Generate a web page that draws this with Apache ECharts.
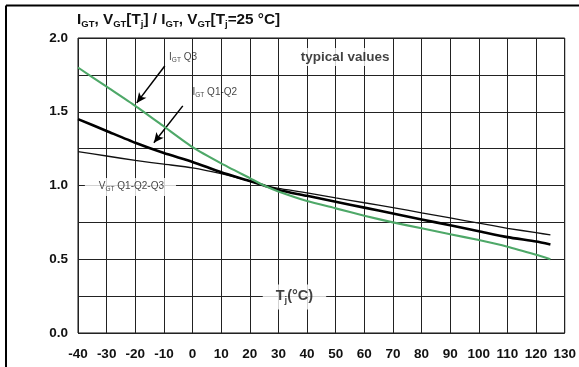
<!DOCTYPE html>
<html>
<head>
<meta charset="utf-8">
<script src="https://cdn.jsdelivr.net/npm/echarts@6/dist/echarts.min.js"></script>
<style>
  html, body { margin: 0; padding: 0; background: #fff; }
  #chart { width: 579px; height: 367px; }
</style>
</head>
<body>
<div id="chart"></div>
<script>
// Junction temperature (°C)
const temps = [-40, -30, -20, -10, 0, 10, 20, 25, 30, 40, 50, 60, 70, 80, 90, 100, 110, 120, 125];
// Normalised gate trigger current, quadrant 3
const igtQ3 = [1.80, 1.67, 1.54, 1.40, 1.26, 1.15, 1.05, 1.00, 0.96, 0.895, 0.845, 0.795, 0.75, 0.71, 0.67, 0.63, 0.585, 0.53, 0.50];
// Normalised gate trigger current, quadrants 1-2
const igtQ12 = [1.45, 1.37, 1.29, 1.22, 1.16, 1.09, 1.03, 1.00, 0.97, 0.93, 0.89, 0.85, 0.81, 0.77, 0.73, 0.69, 0.65, 0.62, 0.60];
// Normalised gate trigger voltage, quadrants 1-2-3
const vgtQ123 = [1.23, 1.20, 1.17, 1.145, 1.12, 1.08, 1.03, 1.00, 0.98, 0.95, 0.916, 0.883, 0.85, 0.815, 0.78, 0.745, 0.71, 0.68, 0.665];

// Axis ranges
const xMin = -40, xMax = 130, xStep = 10;
const yMin = 0, yMax = 2, yStep = 0.25;

// Curve captions (data coordinates of the text anchor)
const captionQ3 = [-8.2, 1.864];
const captionQ12 = [0, 1.627];
const captionVgt = [-37.6, 0.99];
const captionTypical = [53.3, 1.871];
const captionTj = [35.6, 0.244];

// Pointer arrows: [from, to] in data coordinates
const arrowQ3 = [[-9.7, 1.81], [-19.5, 1.56]];
const arrowQ12 = [[-3.4, 1.54], [-13.5, 1.29]];

const FONT = '"Liberation Sans", Arial, Helvetica, sans-serif';

const pair = (xs, ys) => xs.map((x, i) => [x, ys[i]]);

const subRich = {
  n: { fontSize: 10, fontFamily: FONT, color: '#111', verticalAlign: 'top', padding: [0, 0, 0, 0] },
  s: { fontSize: 6.5, fontFamily: FONT, color: '#111', verticalAlign: 'top', padding: [5, 0, 0, 0] }
};

const chart = echarts.init(document.getElementById('chart'), null, { renderer: 'canvas' });

chart.setOption({
  animation: false,
  backgroundColor: '#fff',
  title: {
    text: '{n|I}{s|GT}{n|, V}{s|GT}{n|[T}{s|j}{n|] / I}{s|GT}{n|, V}{s|GT}{n|[T}{s|j}{n|=25 °C]}',
    left: 77,
    top: 12,
    padding: 0,
    textStyle: {
      rich: {
        n: { fontSize: 15.3, fontWeight: 'bold', fontFamily: FONT, color: '#111', verticalAlign: 'top', padding: [0, 0, 0, 0] },
        s: { fontSize: 9.5, fontWeight: 'bold', fontFamily: FONT, color: '#111', verticalAlign: 'top', padding: [7, 0, 0, 0] }
      }
    }
  },
  graphic: [
    { type: 'line', shape: { x1: 6, y1: 5.5, x2: 579, y2: 5.5 }, style: { stroke: '#000', lineWidth: 2 } },
    { type: 'line', shape: { x1: 6, y1: 5.5, x2: 6, y2: 367 }, style: { stroke: '#000', lineWidth: 2 } }
  ],
  grid: {
    left: 78, top: 38, width: 488, height: 295,
    show: true, borderColor: '#111', borderWidth: 1, backgroundColor: 'transparent'
  },
  xAxis: {
    type: 'value', min: xMin, max: xMax, interval: xStep,
    axisLine: { show: false }, axisTick: { show: false },
    splitLine: { show: true, lineStyle: { color: '#222', width: 1 } },
    axisLabel: { margin: 14, fontSize: 13.5, fontWeight: 'bold', fontFamily: FONT, color: '#111' }
  },
  yAxis: {
    type: 'value', min: yMin, max: yMax, interval: yStep,
    axisLine: { show: false }, axisTick: { show: false },
    splitLine: { show: true, lineStyle: { color: '#222', width: 1 } },
    axisLabel: {
      margin: 10, fontSize: 13.5, fontWeight: 'bold', fontFamily: FONT, color: '#111',
      formatter: v => (Math.abs(v / 0.5 - Math.round(v / 0.5)) < 1e-6 ? v.toFixed(1) : '')
    }
  },
  series: [
    {
      name: 'VGT Q1-Q2-Q3', type: 'line', data: pair(temps, vgtQ123),
      smooth: 0.2, showSymbol: false, z: 3,
      lineStyle: { color: '#111', width: 1.3 }
    },
    {
      name: 'IGT Q1-Q2', type: 'line', data: pair(temps, igtQ12),
      smooth: 0.2, showSymbol: false, z: 4,
      lineStyle: { color: '#000', width: 2.6 },
      markLine: {
        silent: true, symbol: ['none', 'arrow'], symbolSize: [7, 10],
        label: { show: false },
        lineStyle: { color: '#000', width: 1.5, type: 'solid' },
        data: [
          [{ coord: arrowQ3[0] }, { coord: arrowQ3[1] }],
          [{ coord: arrowQ12[0] }, { coord: arrowQ12[1] }]
        ]
      }
    },
    {
      name: 'IGT Q3', type: 'line', data: pair(temps, igtQ3),
      smooth: 0.2, showSymbol: false, z: 5,
      lineStyle: { color: '#4ea868', width: 2.1 }
    },
    {
      // Captions and boxed notes
      type: 'scatter', symbolSize: 0, silent: true, z: 6,
      data: [
        { value: captionQ3, label: { formatter: '{n|I}{s|GT}{n| Q3}', position: 'right', distance: 0, rich: subRich } },
        { value: captionQ12, label: { formatter: '{n|I}{s|GT}{n| Q1-Q2}', position: 'right', distance: 0, rich: subRich } },
        { value: captionVgt, label: { formatter: '{n|V}{s|GT}{n| Q1-Q2-Q3}', position: 'right', distance: 0, rich: subRich, backgroundColor: '#fff', padding: [3, 12, 3, 14] } },
        { value: captionTypical, label: { formatter: 'typical values', position: 'inside', fontSize: 13.5, fontWeight: 'bold', fontFamily: FONT, color: '#111', backgroundColor: '#fff', padding: [2, 1, 2, 1] } },
        { value: captionTj, label: {
            formatter: '{n|T}{s|j}{n|(°C)}', position: 'inside', backgroundColor: '#fff', padding: [4, 13, 4, 13],
            rich: {
              n: { fontSize: 14.5, fontWeight: 'bold', fontFamily: FONT, color: '#111', verticalAlign: 'top' },
              s: { fontSize: 9.5, fontWeight: 'bold', fontFamily: FONT, color: '#111', verticalAlign: 'top', padding: [7, 0, 0, 0] }
            }
          } }
      ],
      label: { show: true, color: '#111' }
    }
  ]
});
</script>
</body>
</html>
